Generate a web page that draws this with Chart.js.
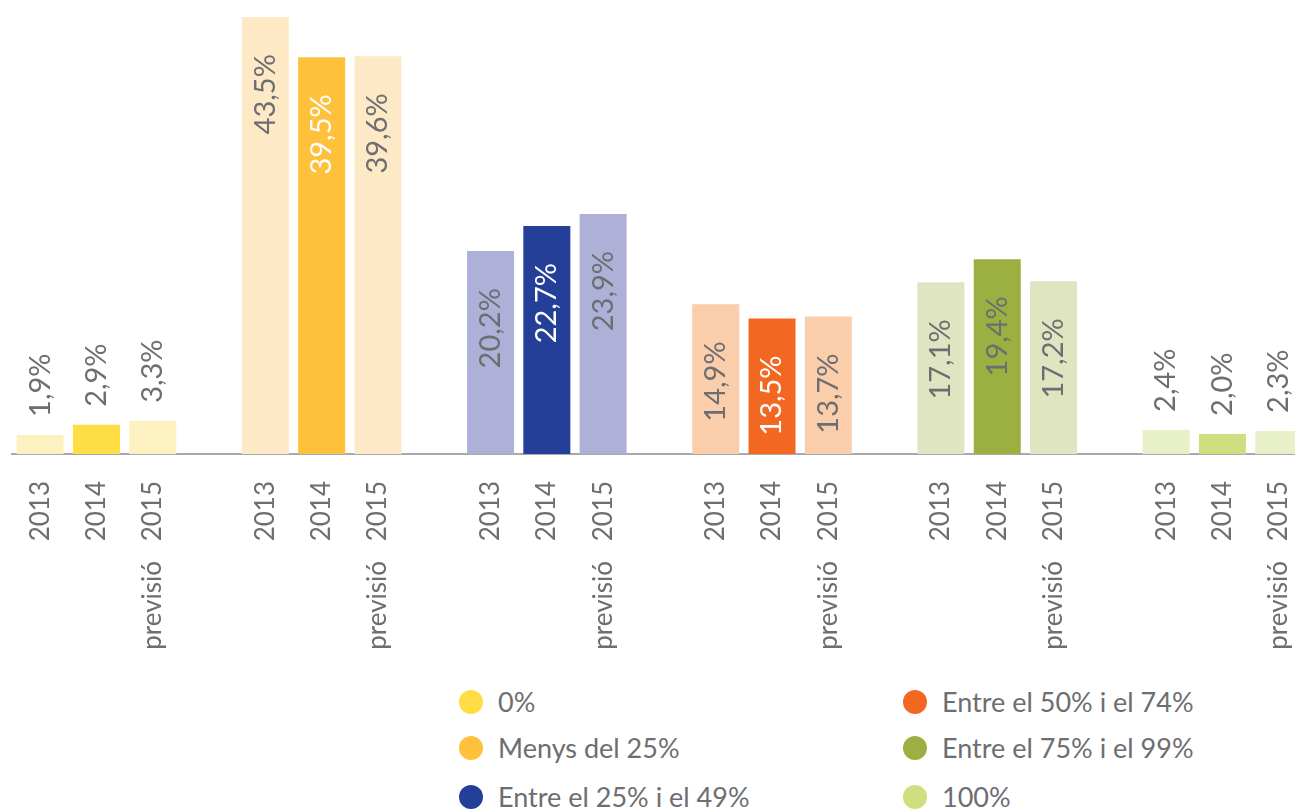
<!DOCTYPE html>
<html>
<head>
<meta charset="utf-8">
<script src="https://cdn.jsdelivr.net/npm/chart.js@4/dist/chart.umd.min.js"></script>
<style>
  html, body { margin: 0; padding: 0; background: #fff; overflow: hidden; width: 1295px; height: 810px; }
  #chart { position: absolute; left: 0; top: 0; }
  .legend { position: absolute; left: 0; top: 0; font-family: Lato, 'Open Sans', sans-serif; font-size: 27px; color: #6d6e71; }
  .legend div { position: absolute; white-space: nowrap; height: 30px; line-height: 30px; }
  .legend span.dot { position: absolute; left: 0; top: 3px; width: 24px; height: 24px; border-radius: 50%; }
  .legend span.txt { position: absolute; left: 39px; top: 0; }
</style>
</head>
<body>
<canvas id="chart" width="1337" height="670"></canvas>
<div class="legend" id="legend"></div>
<script>
const groups = ['0%', 'Menys del 25%', 'Entre el 25% i el 49%', 'Entre el 50% i el 74%', 'Entre el 75% i el 99%', '100%'];
const years = ['2013', '2014', 'previsió\u2002 2015'];
const values2013 = [1.9, 43.5, 20.2, 14.9, 17.1, 2.4];
const values2014 = [2.9, 39.5, 22.7, 13.5, 19.4, 2.0];
const values2015 = [3.3, 39.6, 23.9, 13.7, 17.2, 2.3];
const fullColors = ['#ffdd44', '#ffc03c', '#233f98', '#f26722', '#9bb040', '#cddf7e'];
const lightColors = ['#fdf1bf', '#fde9c6', '#aeb0d8', '#facdab', '#e0e5c1', '#e8f0c9'];
const label2014Colors = ['#6d6e71', '#ffffff', '#ffffff', '#ffffff', '#6d6e71', '#6d6e71'];

const textGray = '#6d6e71';

// one slot per bar, plus an empty slot between groups
const labels = [];
const data = [];
const colors = [];
const labelColors = [];
groups.forEach((g, gi) => {
    const vals = [values2013[gi], values2014[gi], values2015[gi]];
    vals.forEach((v, yi) => {
        labels.push(years[yi]);
        data.push(v);
        colors.push(yi === 1 ? fullColors[gi] : lightColors[gi]);
        labelColors.push(yi === 1 ? label2014Colors[gi] : textGray);
    });
    if (gi < groups.length - 1) {
        labels.push('');
        data.push(null);
        colors.push('rgba(0,0,0,0)');
        labelColors.push(textGray);
    }
});

const fmt = v => v.toFixed(1).replace('.', ',') + '%';

const valueLabels = {
    id: 'valueLabels',
    afterDatasetsDraw(chart) {
        const ctx = chart.ctx;
        const meta = chart.getDatasetMeta(0);
        ctx.save();
        ctx.font = '29px Lato, "Open Sans", sans-serif';
        ctx.textBaseline = 'middle';
        meta.data.forEach((bar, i) => {
            const v = data[i];
            if (v == null) return;
            const inside = v > 8;
            ctx.save();
            ctx.translate(bar.x, inside ? bar.y + 37 : bar.y - 18);
            ctx.rotate(-Math.PI / 2);
            ctx.textAlign = inside ? 'right' : 'left';
            ctx.fillStyle = inside ? labelColors[i] : textGray;
            ctx.fillText(fmt(v), 0, 0);
            ctx.restore();
        });
        ctx.restore();
    }
};

new Chart(document.getElementById('chart'), {
    type: 'bar',
    data: {
        labels: labels,
        datasets: [{
            data: data,
            backgroundColor: colors,
            borderWidth: 0,
            barPercentage: 0.835,
            categoryPercentage: 1
        }]
    },
    options: {
        responsive: false,
        animation: false,
        layout: { padding: { left: 12, right: 3, top: 0, bottom: 0 } },
        scales: {
            x: {
                grid: { display: false, drawTicks: false },
                border: { display: true, color: '#a7a9ac', width: 2 },
                ticks: {
                    autoSkip: false,
                    minRotation: 90,
                    maxRotation: 90,
                    padding: 27,
                    color: textGray,
                    font: { family: 'Lato, "Open Sans", sans-serif', size: 26 }
                },
                afterFit: (axis) => { axis.height = 216; }
            },
            y: {
                display: false,
                min: 0,
                max: 45.2
            }
        },
        plugins: {
            legend: { display: false },
            tooltip: { enabled: false }
        }
    },
    plugins: [valueLabels]
});

// legend: two columns, three rows
const legendEl = document.getElementById('legend');
const legendCols = [459, 903];
const legendRows = [687, 733, 782];
groups.forEach((g, gi) => {
    const col = Math.floor(gi / 3);
    const row = gi % 3;
    const item = document.createElement('div');
    item.style.left = legendCols[col] + 'px';
    item.style.top = legendRows[row] + 'px';
    item.innerHTML = `<span class="dot" style="background:${fullColors[gi]}"></span><span class="txt">${g}</span>`;
    legendEl.appendChild(item);
});
</script>
</body>
</html>
